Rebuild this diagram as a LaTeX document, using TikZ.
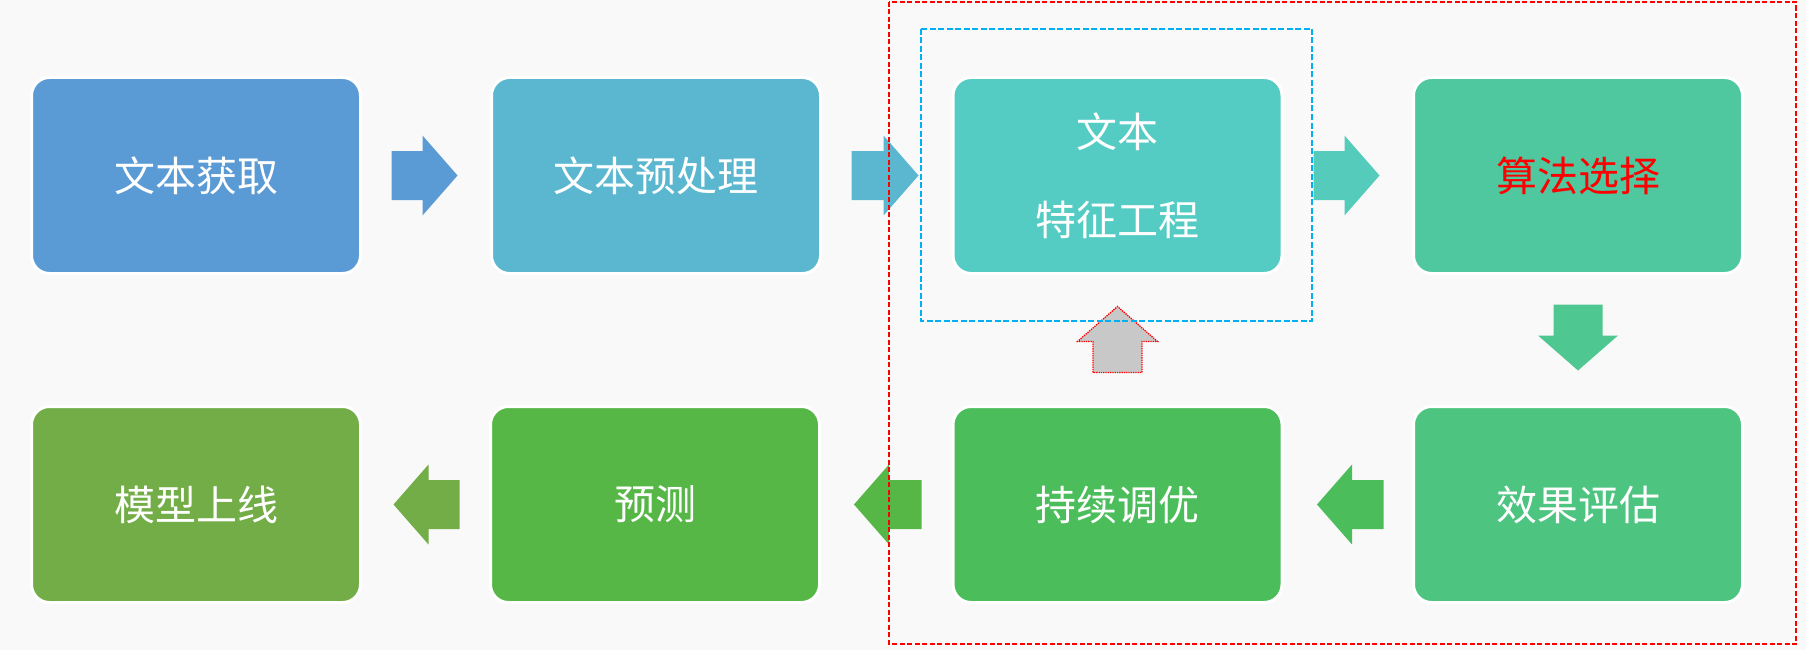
\documentclass[tikz,border=0pt]{standalone}
\usepackage{fontspec}
\setmainfont{Noto Sans CJK SC}
\usetikzlibrary{calc}
\definecolor{bgc}{HTML}{F9F9F9}
\definecolor{cA}{HTML}{5B9BD5}
\definecolor{cB}{HTML}{5BB7D0}
\definecolor{cC}{HTML}{54CCC4}
\definecolor{cCa}{HTML}{55CBBB}
\definecolor{cD}{HTML}{4FC79F}
\definecolor{cDa}{HTML}{4FC790}
\definecolor{cE}{HTML}{4DC480}
\definecolor{cF}{HTML}{4BBE5B}
\definecolor{cG}{HTML}{56B747}
\definecolor{cH}{HTML}{72AD47}
\definecolor{grayarrow}{HTML}{C8C8C8}
\definecolor{framered}{HTML}{FF0000}
\definecolor{frameblue}{HTML}{00B0F0}
\newcommand\blockarrow[3]{%
  \path[#3] ($(#1)!24.5pt!90:(#2)$) -- ($($(#2)!35pt!(#1)$)!24.5pt!-90:(#1)$)
    -- ($($(#2)!35pt!(#1)$)!40pt!-90:(#1)$) -- (#2)
    -- ($($(#2)!35pt!(#1)$)!40pt!90:(#1)$)
    -- ($($(#2)!35pt!(#1)$)!24.5pt!90:(#1)$)
    -- ($(#1)!24.5pt!-90:(#2)$) -- cycle;}
\begin{document}
\begin{tikzpicture}[x=1pt,y=-1pt,
  stage/.style={rectangle, rounded corners=18pt, draw=white, line width=3pt,
    minimum width=329pt, minimum height=196pt, inner sep=0pt, text=white,
    font=\fontsize{41pt}{88pt}\selectfont, align=center},
  grayup/.style={fill=grayarrow, draw=framered, line width=1.3pt, densely dotted},
  redframe/.style={draw=framered, line width=1.6pt, dash pattern=on 5pt off 2.5pt},
  blueframe/.style={draw=frameblue, line width=1.5pt, dash pattern=on 6pt off 2.5pt}]
\useasboundingbox (0,0) rectangle (1806,650);
\fill[bgc] (0,0) rectangle (1806,650);
% stages
\node[stage, fill=cA] (b1) at (196,175.5) {文本获取};
\node[stage, fill=cB] (b2) at (656,175.5) {文本预处理};
\node[stage, fill=cC] (b3) at (1117.5,175.5) {文本\\特征工程};
\node[stage, fill=cD, text=framered] (b4) at (1578,175.5) {算法选择};
\node[stage, fill=cE] (b5) at (1578,504.5) {效果评估};
\node[stage, fill=cF] (b6) at (1117.5,504.5) {持续调优};
\node[stage, fill=cG] (b7) at (655,504.5) {预测};
\node[stage, fill=cH] (b8) at (196,504.5) {模型上线};
% arrow end points
\coordinate (a1s) at ($(b1.east)+(29.5,0)$);
\coordinate (a1t) at ($(b2.west)+(-32.5,0)$);
\coordinate (a2s) at ($(b2.east)+(29.5,0)$);
\coordinate (a2t) at ($(b3.west)+(-33,0)$);
\coordinate (a3s) at ($(b3.east)+(30,0)$);
\coordinate (a3t) at ($(b4.west)+(-32.5,0)$);
\coordinate (a4s) at ($(b4.south)+(0,29.5)$);
\coordinate (a4t) at ($(b5.north)+(0,-34.5)$);
\coordinate (a5s) at ($(b5.west)+(-28.5,0)$);
\coordinate (a5t) at ($(b6.east)+(33.5,0)$);
\coordinate (a6s) at ($(b6.west)+(-30,0)$);
\coordinate (a6t) at ($(b7.east)+(33,0)$);
\coordinate (a7s) at ($(b7.west)+(-29.5,0)$);
\coordinate (a7t) at ($(b8.east)+(31.5,0)$);
\coordinate (aus) at ($(b6.north)+(0,-32.5)$);
\coordinate (aut) at ($(b3.south)+(0,31.5)$);
\blockarrow{a1s}{a1t}{fill=cA}
\blockarrow{a2s}{a2t}{fill=cB}
\blockarrow{a3s}{a3t}{fill=cCa}
\blockarrow{a4s}{a4t}{fill=cDa}
\blockarrow{a5s}{a5t}{fill=cF}
\blockarrow{a6s}{a6t}{fill=cG}
\blockarrow{a7s}{a7t}{fill=cH}
\blockarrow{aus}{aut}{grayup}
% frames
\draw[blueframe] (921,29) rectangle (1312,321);
\draw[redframe] (889,2) rectangle (1796,644);
\end{tikzpicture}
\end{document}
